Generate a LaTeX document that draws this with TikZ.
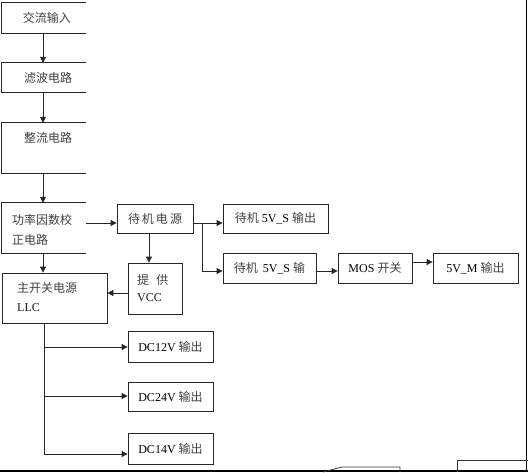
\documentclass[tikz,border=0pt]{standalone}
\usepackage{fontspec}
\setmainfont{Liberation Serif}
\newfontfamily\cjk{Noto Sans CJK SC}
\usetikzlibrary{arrows.meta,calc}
\newcommand{\zh}[1]{{\cjk\color{black!75}#1}}
\begin{document}
\begin{tikzpicture}[x=1pt,y=-1pt,
  bx/.style 2 args={draw=black!85,line width=0.8pt,inner sep=0pt,minimum width=#1,minimum height=#2},
  ob/.style 2 args={inner sep=0pt,minimum width=#1,minimum height=#2},
  ln/.style={draw=black!85,line width=0.8pt},
  arr/.style={draw=black!85,line width=0.8pt,-{Triangle[length=6pt,width=6pt]}},
  txt/.style={inner sep=0pt,font=\fontsize{12}{14}\selectfont,text=black!90},
  lt/.style={txt,anchor=west}]
\useasboundingbox (0,0) rectangle (528,472);
% left open boxes
\node[ob={84pt}{30pt}] (ac) at (44,18) {};
\node[ob={84pt}{29pt}] (flt) at (44,77.5) {};
\node[ob={84pt}{50pt}] (rec) at (44,148) {};
\node[ob={84pt}{50pt}] (pfc) at (44,228) {};
\foreach \n in {ac,flt,rec,pfc}
  \draw[ln] (\n.north east) -| (\n.south west) -- (\n.south east);
\node[txt] (tac) at (47,18) {\zh{交流输入}};
\node[txt] (tflt) at (48,78) {\zh{滤波电路}};
\node[txt] (trec) at (48,138) {\zh{整流电路}};
\node[lt] (tpfc1) at (12,220) {\zh{功率因数校}};
\node[lt] (tpfc2) at (12,240) {\zh{正电路}};
% main switch
\node[bx={105pt}{50pt}] (main) at (54.5,298) {};
\node[lt] (tm1) at (17,288) {\zh{主开关电源}};
\node[lt] (tm2) at (17,308) {LLC};
% standby
\node[bx={76pt}{29pt}] (sb) at (155,218.5) {\fontsize{12}{14}\selectfont\zh{待\,机\,电\,源}};
\node[bx={54pt}{51pt}] (vcc) at (155,288.5) {};
\node[lt] (tv1) at (137,280) {\zh{提\hspace{0.6em}供}};
\node[lt] (tv2) at (137,298) {VCC};
% right side boxes
\node[bx={105pt}{29pt},font=\fontsize{12}{14}\selectfont] (o1) at (275.5,218.5) {\zh{待机} 5V\_S \zh{输出}};
\node[bx={93pt}{30pt},font=\fontsize{12}{14}\selectfont] (o2) at (269.5,268) {\zh{待机}\, 5V\_S \zh{输}};
\node[bx={74pt}{30pt},font=\fontsize{12}{14}\selectfont] (mos) at (375,268) {MOS \zh{开关}};
\node[bx={85pt}{30pt},font=\fontsize{12}{14}\selectfont] (vm) at (475.5,268) {5V\_M \zh{输出}};
% DC outputs
\node[bx={85pt}{31pt},font=\fontsize{12}{14}\selectfont] (d12) at (170.5,346.5) {DC12V \zh{输出}};
\node[bx={85pt}{29pt},font=\fontsize{12}{14}\selectfont] (d24) at (170.5,396.5) {DC24V \zh{输出}};
\node[bx={85pt}{31pt},font=\fontsize{12}{14}\selectfont] (d14) at (170.5,448.5) {DC14V \zh{输出}};
% connectors
\draw[arr] (ac.south -| 43,0) -- (flt.north -| 43,0);
\draw[arr] (flt.south -| 43,0) -- (rec.north -| 43,0);
\draw[arr] (rec.south -| 43,0) -- (pfc.north -| 43,0);
\draw[arr] (pfc.south -| 43,0) -- (main.north -| 43,0);
\draw[arr] (pfc.east |- 0,223) -- (sb.west |- 0,223);
\draw[arr] (sb.south -| 149,0) -- (vcc.north -| 149,0);
\draw[arr] (vcc.west |- 0,293) -- (main.east |- 0,293);
\coordinate (sp) at (202,223);
\draw[ln] (sb.east |- sp) -- (sp);
\draw[arr] (sp) -- (o1.west |- sp);
\draw[arr] (sp) |- (o2.west |- 0,271);
\draw[arr] (o2.east |- 0,271) -- (mos.west |- 0,271);
\draw[arr] (mos.east |- 0,262) -- (vm.west |- 0,262);
\coordinate (bt) at (44,454);
\draw[ln] (main.south -| bt) -- (bt);
\draw[arr] (44,347) -- (d12.west |- 0,347);
\draw[arr] (44,396) -- (d24.west |- 0,396);
\draw[arr] (bt) -- (d14.west |- bt);
% page edge fragments
\draw[black,line width=1.6pt] (0,470.8) -- (528,470.8);
\draw[black,line width=1.4pt] (526.6,0) -- (526.6,470.8);
\draw[black!80,line width=0.8pt] (323,472) -- (342,467) -- (400,467) -- (400,472);
\draw[black!80,line width=0.8pt] (457,472) -- (457,460) -- (528,460);
\end{tikzpicture}
\end{document}
